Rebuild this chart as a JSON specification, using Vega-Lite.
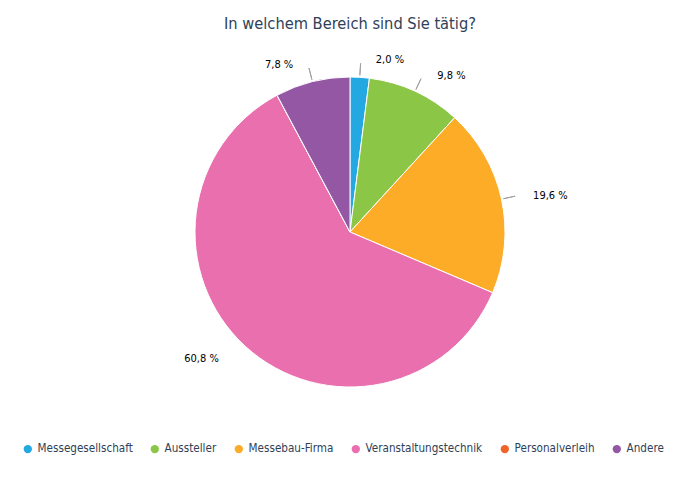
{
  "$schema": "https://vega.github.io/schema/vega-lite/v6.json",
  "width": 700,
  "height": 310,
  "autosize": {"type": "none"},
  "padding": {"left": 0, "top": 77, "right": 0, "bottom": 92},
  "background": "white",
  "title": {
    "text": "In welchem Bereich sind Sie tätig?",
    "font": "DejaVu Sans Condensed",
    "fontSize": 16.3,
    "fontWeight": "normal",
    "color": "#2f4158",
    "anchor": "middle",
    "frame": "group",
    "offset": 22
  },
  "config": {"view": {"stroke": null}},
  "data": {
    "values": [
      {"Bereich": "Messegesellschaft", "Anteil": 2.0, "rank": 1, "label": "2,0 %", "side": "right"},
      {"Bereich": "Aussteller", "Anteil": 9.8, "rank": 2, "label": "9,8 %", "side": "right"},
      {"Bereich": "Messebau-Firma", "Anteil": 19.6, "rank": 3, "label": "19,6 %", "side": "right"},
      {"Bereich": "Veranstaltungstechnik", "Anteil": 60.8, "rank": 4, "label": "60,8 %", "side": "left"},
      {"Bereich": "Personalverleih", "Anteil": 0.0, "rank": 5, "label": "", "side": "none"},
      {"Bereich": "Andere", "Anteil": 7.8, "rank": 6, "label": "7,8 %", "side": "left"}
    ]
  },
  "encoding": {
    "theta": {"field": "Anteil", "type": "quantitative", "stack": true},
    "order": {"field": "rank", "type": "quantitative"},
    "color": {
      "field": "Bereich",
      "type": "nominal",
      "sort": ["Messegesellschaft", "Aussteller", "Messebau-Firma", "Veranstaltungstechnik", "Personalverleih", "Andere"],
      "scale": {
        "domain": ["Messegesellschaft", "Aussteller", "Messebau-Firma", "Veranstaltungstechnik", "Personalverleih", "Andere"],
        "range": ["#23a8e1", "#8bc646", "#fcac26", "#e96fae", "#f0642a", "#9457a4"]
      },
      "legend": {
        "title": null,
        "orient": "none",
        "direction": "horizontal",
        "legendX": 22,
        "legendY": 366,
        "symbolType": "circle",
        "symbolSize": 70,
        "symbolStrokeWidth": 0,
        "labelFont": "DejaVu Sans Condensed",
        "labelFontSize": 11.6,
        "labelColor": "#2f4158",
        "columnPadding": 16,
        "labelOffset": 4,
        "labelLimit": 300
      }
    }
  },
  "layer": [
    {
      "mark": {"type": "arc", "outerRadius": 155, "stroke": "white", "strokeWidth": 1}
    },
    {
      "mark": {"type": "arc", "innerRadius": 157, "outerRadius": 169, "padAngle": 3.14, "fillOpacity": 0, "strokeWidth": 1},
      "encoding": {
        "stroke": {"condition": {"test": "datum.Anteil > 0 && datum.Anteil < 50", "value": "#a0a0a0"}, "value": "transparent"},
        "fill": {"value": "transparent"}
      }
    },
    {
      "mark": {"type": "text", "radius": 172, "dx": 15, "align": "left", "baseline": "middle", "font": "DejaVu Sans Condensed", "fontSize": 11},
      "encoding": {
        "text": {"condition": {"test": "datum.side == 'right'", "field": "label"}, "value": ""},
        "color": {"value": "black"}
      }
    },
    {
      "mark": {"type": "text", "radius": 172, "dx": -15, "align": "right", "baseline": "middle", "font": "DejaVu Sans Condensed", "fontSize": 11},
      "encoding": {
        "text": {"condition": {"test": "datum.side == 'left'", "field": "label"}, "value": ""},
        "color": {"value": "black"}
      }
    }
  ]
}
